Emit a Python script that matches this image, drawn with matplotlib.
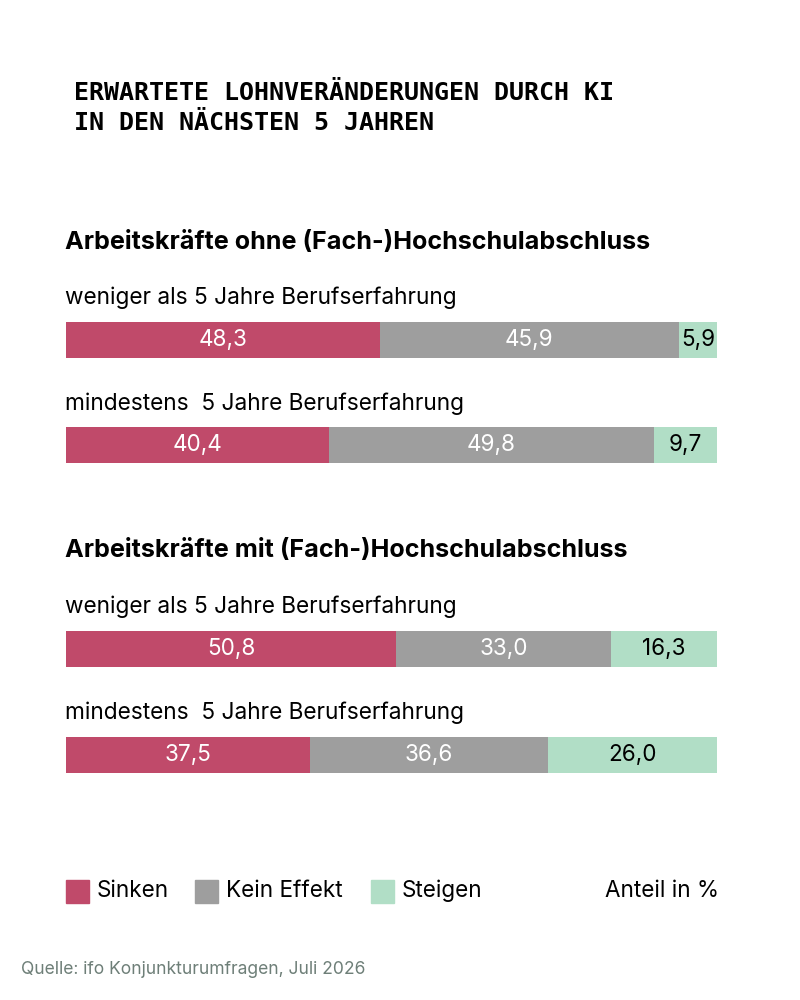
import matplotlib
matplotlib.use("Agg")
import matplotlib.pyplot as plt
from matplotlib.patches import Rectangle

# ---- data ----
title_lines = ["ERWARTETE LOHNVERÄNDERUNGEN DURCH KI", "IN DEN NÄCHSTEN 5 JAHREN"]
groups = ["Arbeitskräfte ohne (Fach-)Hochschulabschluss",
          "Arbeitskräfte mit (Fach-)Hochschulabschluss"]
rows = ["weniger als 5 Jahre Berufserfahrung", "mindestens  5 Jahre Berufserfahrung",
        "weniger als 5 Jahre Berufserfahrung", "mindestens  5 Jahre Berufserfahrung"]
series = ["Sinken", "Kein Effekt", "Steigen"]
sinken = [48.3, 40.4, 50.8, 37.5]
kein_effekt = [45.9, 49.8, 33.0, 36.6]
steigen = [5.9, 9.7, 16.3, 26.0]
unit_label = "Anteil in %"
source = "Quelle: ifo Konjunkturumfragen, Juli 2026"

colors = ["#C04A6A", "#9E9E9E", "#B1DEC6"]
label_colors = ["white", "white", "black"]

W, H = 800, 1000
fig = plt.figure(figsize=(8, 10), dpi=100)
fig.patch.set_facecolor("white")
FONT = "Inter"

x0, x1 = 66, 717
ax = fig.add_axes([x0 / W, 0, (x1 - x0) / W, 1])
ax.set_xlim(0, 100)
ax.set_ylim(H, 0)
ax.axis("off")

bar_y = [340, 445, 649, 755]
bar_h = 36
row_label_y = [298, 404, 607, 713]
group_y = [243, 551]

vals = [sinken, kein_effekt, steigen]
for i in range(len(rows)):
    total = sum(v[i] for v in vals)
    left = 0
    for s in range(3):
        w = vals[s][i] / total * 100
        ax.barh(bar_y[i], w, left=left, height=bar_h, color=colors[s],
                edgecolor="none")
        ax.text(left + w / 2, bar_y[i], f"{vals[s][i]:.1f}".replace(".", ","),
                ha="center", va="center", color=label_colors[s],
                fontsize=16.2, family=FONT)
        left += w

def px(x, y):
    return x / W, 1 - y / H

# title
for k, line in enumerate(title_lines):
    fig.text(*px(74, 93 + k * 30), line, family="DejaVu Sans Mono",
             fontweight="bold", fontsize=18, ha="left", va="center", color="black")

for k, g in enumerate(groups):
    fig.text(*px(65, group_y[k]), g, family=FONT, fontweight="bold",
             fontsize=18.1, ha="left", va="center", color="black")

for i, r in enumerate(rows):
    fig.text(*px(65, row_label_y[i]), r, family=FONT, fontsize=16.3,
             ha="left", va="center", color="black")

# legend
leg_x = [66, 195, 371]
for s in range(3):
    fig.patches.append(Rectangle(px(leg_x[s], 903), 23 / W, 23 / H,
                                 transform=fig.transFigure, color=colors[s],
                                 figure=fig))
    fig.text(*px(leg_x[s] + 31, 891), series[s], family=FONT, fontsize=16.2,
             ha="left", va="center", color="black")
fig.text(*px(719, 891), unit_label, family=FONT, fontsize=16.2,
         ha="right", va="center", color="black")

fig.text(*px(21, 970), source, family=FONT, fontsize=12.6,
         ha="left", va="center", color="#6E7F78")

fig.savefig("out.png", dpi=100, facecolor="white")
